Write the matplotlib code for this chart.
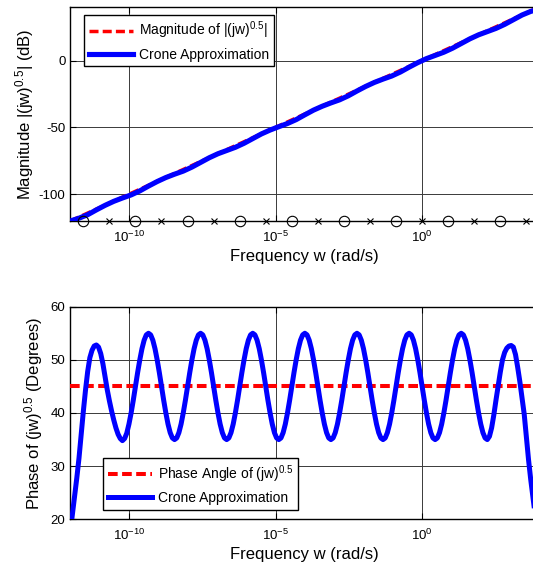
import numpy as np
import matplotlib
matplotlib.use("Agg")
import matplotlib.pyplot as plt
from matplotlib.ticker import FixedLocator, NullLocator, LogFormatterMathtext

plt.rcParams['font.family'] = ['Liberation Sans', 'DejaVu Sans']
plt.rcParams['mathtext.fontset'] = 'custom'
plt.rcParams['mathtext.rm'] = 'Liberation Sans'
plt.rcParams['mathtext.it'] = 'Liberation Sans:italic'
plt.rcParams['mathtext.bf'] = 'Liberation Sans:bold'
plt.rcParams['axes.unicode_minus'] = False

# ---------------- data ----------------
# frequency band of the approximation (rad/s)
w_band = [1e-12, 1e4]
# ideal magnitude of (jw)^0.5 at the band ends (dB)
ideal_mag = [-120.0, 40.0]
# ideal phase angle (deg)
ideal_phase = 45.0

# sample frequencies for the Crone curves (log-spaced over the band)
freq_phase = np.logspace(-12, 4, 217)
freq_mag = np.logspace(-12, 4, 55)

crone_mag = [-120.0, -117.9, -115.3, -111.7, -108.3, -105.3, -102.8, -100.5, -97.5,
             -93.9, -90.5, -87.5, -85.0, -82.7, -79.7, -76.2, -72.7, -69.7,
             -67.3, -64.9, -61.9, -58.4, -54.9, -52.0, -49.5, -47.1, -44.2,
             -40.6, -37.1, -34.2, -31.7, -29.4, -26.4, -22.8, -19.4, -16.4,
             -13.9, -11.6, -8.6, -5.0, -1.6, 1.4, 3.8, 6.2, 9.2,
             12.7, 16.2, 19.2, 21.6, 24.0, 27.0, 30.5, 34.0, 36.7, 38.5]

crone_phase = [
    17.7, 21.1, 24.4, 27.8, 31.5, 35.9, 40.3, 44.3, 47.8, 50.4, 51.8, 52.6,
    52.8, 52.4, 51.2, 49.3, 46.8, 44.4, 42.3, 40.4, 38.7, 37.2, 36.0, 35.2,
    34.8, 35.2, 36.2, 37.9, 40.0, 42.4, 45.0, 47.6, 50.0, 52.1, 53.7, 54.7,
    55.0, 54.7, 53.7, 52.1, 50.0, 47.6, 45.0, 42.4, 40.0, 37.9, 36.3, 35.3,
    35.0, 35.3, 36.3, 37.9, 40.0, 42.4, 45.0, 47.6, 50.0, 52.1, 53.7, 54.7,
    55.0, 54.7, 53.7, 52.1, 50.0, 47.6, 45.0, 42.4, 40.0, 37.9, 36.3, 35.3,
    35.0, 35.3, 36.3, 37.9, 40.0, 42.4, 45.0, 47.6, 50.0, 52.1, 53.7, 54.7,
    55.0, 54.7, 53.7, 52.1, 50.0, 47.6, 45.0, 42.4, 40.0, 37.9, 36.3, 35.3,
    35.0, 35.3, 36.3, 37.9, 40.0, 42.4, 45.0, 47.6, 50.0, 52.1, 53.7, 54.7,
    55.0, 54.7, 53.7, 52.1, 50.0, 47.6, 45.0, 42.4, 40.0, 37.9, 36.3, 35.3,
    35.0, 35.3, 36.3, 37.9, 40.0, 42.4, 45.0, 47.6, 50.0, 52.1, 53.7, 54.7,
    55.0, 54.7, 53.7, 52.1, 50.0, 47.6, 45.0, 42.4, 40.0, 37.9, 36.3, 35.3,
    35.0, 35.3, 36.3, 37.9, 40.0, 42.4, 45.0, 47.6, 50.0, 52.1, 53.7, 54.7,
    55.0, 54.7, 53.7, 52.1, 50.0, 47.6, 45.0, 42.4, 40.0, 37.9, 36.3, 35.3,
    35.0, 35.3, 36.3, 37.9, 40.0, 42.4, 45.0, 47.6, 50.0, 52.1, 53.7, 54.7,
    55.0, 54.7, 53.7, 52.1, 50.0, 47.6, 45.0, 42.4, 40.0, 37.9, 36.3, 35.3,
    35.0, 35.6, 37.2, 39.6, 42.4, 45.0, 47.7, 50.0, 51.4, 52.2, 52.6, 52.7,
    52.4, 51.0, 48.6, 45.9, 42.8, 39.8, 35.5, 31.2, 27.5, 24.2, 21.0, 17.8, 14.6]

# zeros (o) and poles (x) of the approximation, log10(rad/s)
zeros_log = [-11.56, -9.78, -8.00, -6.22, -4.44, -2.67, -0.89, 0.89, 2.67]
poles_log = [-10.67, -8.89, -7.11, -5.33, -3.56, -1.78, 0.00, 1.78, 3.56]

xticks = [1e-10, 1e-5, 1e0]
mag_yticks = [-100, -50, 0]
mag_ylim = [-120, 40]
phase_yticks = [20, 30, 40, 50, 60]
phase_ylim = [20, 60]

# ---------------- figure ----------------
W, H = 533, 575
fig = plt.figure(figsize=(W / 100, H / 100), dpi=100)

def frac_axes(left_px, top_px, right_px, bottom_px):
    return fig.add_axes([left_px / W, 1 - bottom_px / H,
                         (right_px - left_px) / W, (bottom_px - top_px) / H])

ax1 = frac_axes(70.3, 7.0, 539.4, 221.0)
ax2 = frac_axes(70.3, 306.7, 539.4, 519.3)

red = '#ff0000'
blue = '#0000ff'

def style(ax):
    ax.set_xscale('log')
    ax.set_xlim(w_band)
    ax.xaxis.set_major_locator(FixedLocator(xticks))
    ax.xaxis.set_minor_locator(NullLocator())
    ax.xaxis.set_major_formatter(LogFormatterMathtext())
    ax.grid(True, color='#3a3a3a', linewidth=0.7)
    ax.set_axisbelow(True)
    ax.tick_params(direction='in', length=4, width=0.8, labelsize=9.5,
                   top=True, right=True, colors='black')
    ax.tick_params(axis='x', pad=6)
    ax.tick_params(axis='y', pad=3.5)
    for s in ax.spines.values():
        s.set_linewidth(1.0)
        s.set_color('black')

leg_kw = dict(borderaxespad=0, fontsize=10, handlelength=3.2, handletextpad=0.4,
              labelspacing=0.45, borderpad=0.35, fancybox=False, framealpha=1,
              edgecolor='black')

# ---- magnitude ----
style(ax1)
ax1.plot(w_band, ideal_mag, color=red, linestyle='--', linewidth=2.5,
         dashes=(2.6, 1.2), label=r'Magnitude of |(jw)$^{0.5}$|', zorder=3)
ax1.plot(freq_mag, crone_mag, color=blue, linewidth=3.7, solid_joinstyle='round',
         label='Crone Approximation', zorder=4)
ax1.plot(10.0 ** np.array(zeros_log), [mag_ylim[0]] * len(zeros_log), linestyle='none',
         marker='o', markersize=7.5, markerfacecolor='none', markeredgecolor='black',
         markeredgewidth=0.8, clip_on=False, zorder=5)
ax1.plot(10.0 ** np.array(poles_log), [mag_ylim[0]] * len(poles_log), linestyle='none',
         marker='x', markersize=4, markeredgecolor='black',
         markeredgewidth=0.8, clip_on=False, zorder=5)
ax1.set_ylim(mag_ylim)
ax1.yaxis.set_major_locator(FixedLocator(mag_yticks))
ax1.set_xlabel('Frequency w (rad/s)', fontsize=12, labelpad=3)
ax1.set_ylabel(r'Magnitude |(jw)$^{0.5}$| (dB)', fontsize=12)
ax1.yaxis.set_label_coords(-0.074, 0.5)
leg1 = ax1.legend(loc='upper left', bbox_to_anchor=(0.029, 0.963), **leg_kw)
leg1.get_frame().set_linewidth(1.0)

# ---- phase ----
style(ax2)
ax2.plot(w_band, [ideal_phase, ideal_phase], color=red, linestyle='--', linewidth=2.9,
         dashes=(2.4, 1.1), label=r'Phase Angle of (jw)$^{0.5}$', zorder=3)
ax2.plot(freq_phase, crone_phase, color=blue, linewidth=3.6, solid_joinstyle='round',
         label='Crone Approximation', zorder=4)
ax2.set_ylim(phase_ylim)
ax2.yaxis.set_major_locator(FixedLocator(phase_yticks))
ax2.set_xlabel('Frequency w (rad/s)', fontsize=12, labelpad=3)
ax2.set_ylabel(r'Phase of (jw)$^{0.5}$ (Degrees)', fontsize=12)
ax2.yaxis.set_label_coords(-0.054, 0.5)
leg2 = ax2.legend(loc='upper left', bbox_to_anchor=(0.069, 0.287), **leg_kw)
leg2.get_frame().set_linewidth(1.0)

fig.savefig('out.png', dpi=100, facecolor='white')
